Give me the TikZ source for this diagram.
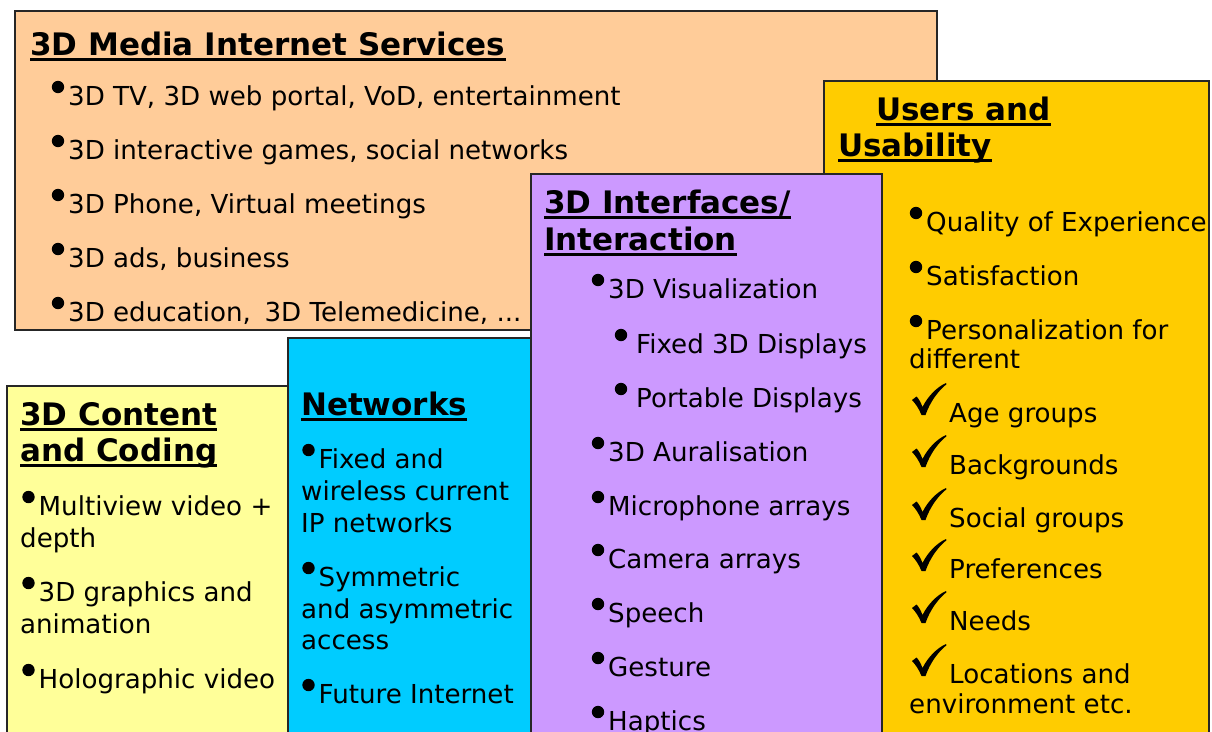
\documentclass[tikz,border=0pt]{standalone}
\usepackage{fontspec}
\setmainfont{DejaVu Sans}
\definecolor{cOrange}{HTML}{FFCC99}
\definecolor{cGold}{HTML}{FFCC00}
\definecolor{cPurple}{HTML}{CC99FF}
\definecolor{cCyan}{HTML}{00CCFF}
\definecolor{cYellow}{HTML}{FFFF99}
\tikzset{
  box/.style={draw=black!85, line width=2pt},
  txt/.style={anchor=base west, inner sep=0pt, font=\fontsize{26.1}{30}\selectfont},
  ttl/.style={anchor=base west, inner sep=0pt, font=\fontsize{31}{36}\selectfont\bfseries},
  ul/.style={line width=2.8pt},
}
\newcommand\bitem[5]{\fill (#2,#4-18) circle (6.2pt); \node[txt] (#1) at (#3,#4) {#5};}
\newcommand\plain[4]{\node[txt] (#1) at (#2,#3) {#4};}
\newcommand\ttlline[4]{\node[ttl] (#1) at (#2,#3) {#4}; \draw[ul] ([yshift=-4.5pt]#1.base west) -- ([yshift=-4.5pt]#1.base east);}
\newcommand\chk[3]{\fill[shift={(912,#2-39)}] (0,17) -- (4.5,13.5) .. controls (7,16) and (9,20) .. (10.5,24) .. controls (16,13) and (25,4) .. (34,0) -- (34.5,1.2) .. controls (26,8) and (18,19) .. (13.5,32) -- (9.5,32) .. controls (7,26) and (4,21) .. (0,17) -- cycle; \node[txt] (#1) at (949,#2) {#3};}
\begin{document}
\begin{tikzpicture}[x=1pt,y=-1pt]
\useasboundingbox (0,0) rectangle (1212,731);
\clip (0,0) rectangle (1212,731);
\fill[white] (0,0) rectangle (1212,731);
% Orange box
\draw[box, fill=cOrange] (15,11) rectangle (937,330);
\ttlline{t1}{30}{55}{3D Media Internet Services}
\bitem{o1}{58}{68}{105}{3D TV, 3D web portal, VoD, entertainment}
\bitem{o2}{58}{68}{159}{3D interactive games, social networks}
\bitem{o3}{58}{68}{213}{3D Phone, Virtual meetings}
\bitem{o4}{58}{68}{267}{3D ads, business}
\bitem{o5}{58}{68}{321}{3D education,\hspace{0.2em} 3D Telemedicine, ...}
% Gold box
\draw[box, fill=cGold] (824,81) rectangle (1209,760);
\ttlline{t2a}{876}{120}{Users and}
\ttlline{t2b}{838}{156}{Usability}
\bitem{g1}{916}{926}{231}{Quality of Experience}
\bitem{g2}{916}{926}{285}{Satisfaction}
\bitem{g3}{916}{926}{339}{Personalization for}
\plain{g3b}{909}{368}{different}
\chk{c1}{422}{Age groups}
\chk{c2}{474}{Backgrounds}
\chk{c3}{527}{Social groups}
\chk{c4}{578}{Preferences}
\chk{c5}{630}{Needs}
\chk{c6}{683}{Locations and}
\plain{c6b}{909}{713}{environment etc.}
% Yellow box
\draw[box, fill=cYellow] (7,386) rectangle (288,760);
\ttlline{t3a}{20}{425}{3D Content}
\ttlline{t3b}{20}{461}{and Coding}
\bitem{y1}{28.5}{38.5}{515}{Multiview video +}
\plain{y1b}{20}{547}{depth}
\bitem{y2}{28.5}{38.5}{601}{3D graphics and}
\plain{y2b}{20}{633}{animation}
\bitem{y3}{28.5}{38.5}{688}{Holographic video}
% Cyan box
\draw[box, fill=cCyan] (288,338) rectangle (531,760);
\ttlline{t4}{301}{415}{Networks}
\bitem{n1}{308.5}{318.5}{468}{Fixed and}
\plain{n1b}{301}{500}{wireless current}
\plain{n1c}{301}{532}{IP networks}
\bitem{n2}{308.5}{318.5}{586}{Symmetric}
\plain{n2b}{301}{618}{and asymmetric}
\plain{n2c}{301}{649}{access}
\bitem{n3}{308.5}{318.5}{703}{Future Internet}
% Purple box
\draw[box, fill=cPurple] (531,174) rectangle (882,760);
\ttlline{t5a}{544}{213}{3D Interfaces/}
\ttlline{t5b}{544}{250}{Interaction}
\bitem{p1}{598}{608}{298}{3D Visualization}
\bitem{p2}{621}{636}{353}{Fixed 3D Displays}
\bitem{p3}{621}{636}{407}{Portable Displays}
\bitem{p4}{598}{608}{461}{3D Auralisation}
\bitem{p5}{598}{608}{515}{Microphone arrays}
\bitem{p6}{598}{608}{568}{Camera arrays}
\bitem{p7}{598}{608}{622}{Speech}
\bitem{p8}{598}{608}{676}{Gesture}
\bitem{p9}{598}{608}{730}{Haptics}
\end{tikzpicture}
\end{document}
